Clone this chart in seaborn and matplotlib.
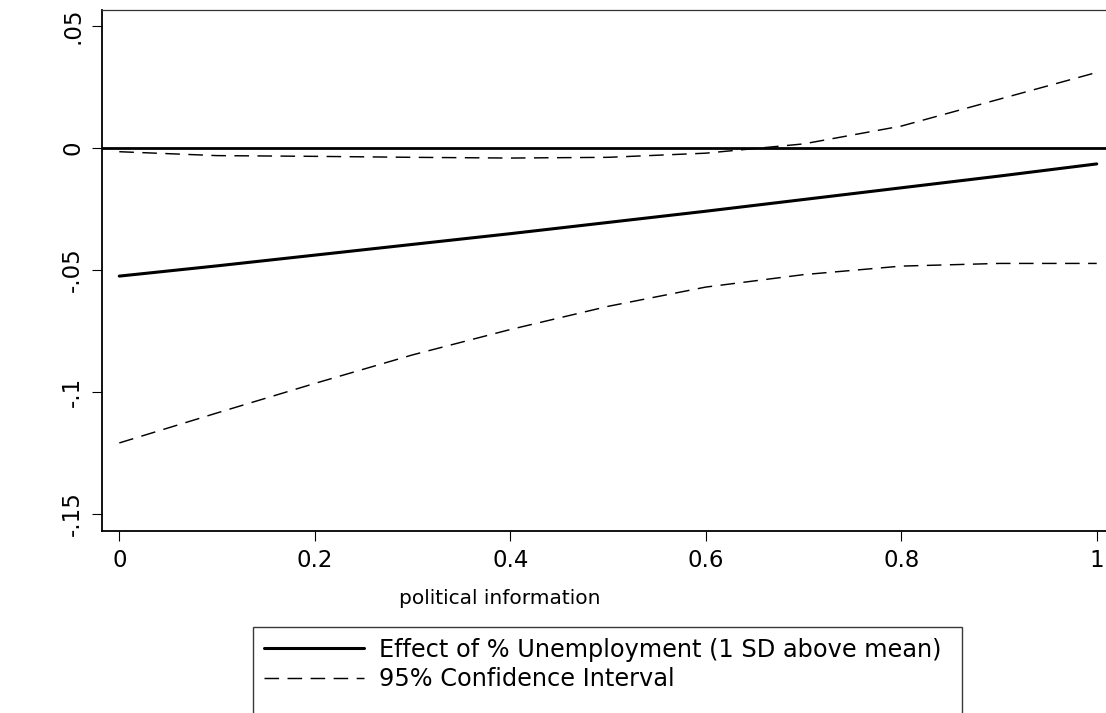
import matplotlib
matplotlib.use("Agg")
import matplotlib.pyplot as plt
from matplotlib.lines import Line2D
from matplotlib.patches import Rectangle
import pandas as pd
import seaborn as sns

# values (Stata margins plot)
political_info = [0.0, 0.1, 0.2, 0.3, 0.4, 0.5, 0.6, 0.7, 0.8, 0.9, 1.0]
effect = [-0.0525, -0.0483, -0.0439, -0.0395, -0.0351, -0.0305,
          -0.0259, -0.0211, -0.0163, -0.0115, -0.0065]
ci_low = [-0.1209, -0.1086, -0.0965, -0.0848, -0.0744, -0.0649,
          -0.0570, -0.0519, -0.0484, -0.0473, -0.0473]
ci_high = [-0.0015, -0.0031, -0.0034, -0.0038, -0.0041, -0.0038,
           -0.0021, 0.0017, 0.0090, 0.0200, 0.0310]

x_ticks = [0, 0.2, 0.4, 0.6, 0.8, 1]
x_tick_labels = ["0", "0.2", "0.4", "0.6", "0.8", "1"]
y_ticks = [-0.15, -0.1, -0.05, 0, 0.05]
y_tick_labels = ["-.15", "-.1", "-.05", "0", ".05"]

legend_labels = ["Effect of % Unemployment (1 SD above mean)",
                 "95% Confidence Interval"]

df = pd.DataFrame({"info": political_info, "effect": effect,
                   "low": ci_low, "high": ci_high})

sns.set_theme(style="white")
plt.rcParams["font.family"] = ["DejaVu Sans"]
plt.rcParams["axes.edgecolor"] = "black"
plt.rcParams["text.color"] = "black"
plt.rcParams["axes.labelcolor"] = "black"

W, H = 1106, 713
fig = plt.figure(figsize=(W / 100, H / 100), dpi=100)
# plot region runs a little past the right edge of the picture (cropped, as in the original)
ax = fig.add_axes([101.5 / W, 1 - 531 / H, (1114.5 - 101.5) / W, (531 - 10) / H])

dash = (0, (10, 5.8))

ax.axhline(0, color="black", lw=2.0, zorder=1)
sns.lineplot(data=df, x="info", y="effect", ax=ax, color="black", lw=2.2)
sns.lineplot(data=df, x="info", y="low", ax=ax, color="black", lw=1.05, linestyle=dash)
sns.lineplot(data=df, x="info", y="high", ax=ax, color="black", lw=1.05, linestyle=dash)

ax.set_xlim(-0.0182, 1.0182)
ax.set_ylim(-0.157, 0.0566)

ax.set_xticks(x_ticks)
ax.set_xticklabels(x_tick_labels, fontsize=16.5)
ax.set_yticks(y_ticks)
ax.set_yticklabels(y_tick_labels, fontsize=16.5, rotation=90, va="center")
ax.tick_params(bottom=True, left=True, direction="out", length=7.5, width=0.8,
               colors="black")
ax.tick_params(axis="x", pad=5.5)
ax.tick_params(axis="y", pad=5)

ax.set_xlabel("political information", fontsize=14.5, color="black")
ax.xaxis.set_label_coords((500 - 101.5) / 1013, -0.112)
ax.set_ylabel("")

ax.spines["right"].set_visible(False)
ax.spines["left"].set_linewidth(1.3)
ax.spines["bottom"].set_linewidth(1.3)
ax.spines["top"].set_linewidth(0.9)
ax.spines["top"].set_color("#333333")

handles = [Line2D([], [], color="black", lw=2.2),
           Line2D([], [], color="black", lw=1.05, linestyle=dash)]
leg = fig.legend(handles, legend_labels, loc="upper left",
                 bbox_to_anchor=(253 / W, 1 - 627 / H), bbox_transform=fig.transFigure,
                 fontsize=17.25, frameon=False, handlelength=4.17, handletextpad=0.63,
                 borderpad=0.45, labelspacing=0.22, borderaxespad=0)

# Stata's legend box is taller than its two rows and runs off the bottom of the picture
fig.canvas.draw()
bb = leg.get_window_extent(fig.canvas.get_renderer())
box = Rectangle((bb.x0, -20), bb.width + 10, bb.y1 + 20, transform=None,
                fill=False, edgecolor="#3a3a3a", lw=1.0)
fig.patches.append(box)

fig.savefig("out.png", dpi=100)
